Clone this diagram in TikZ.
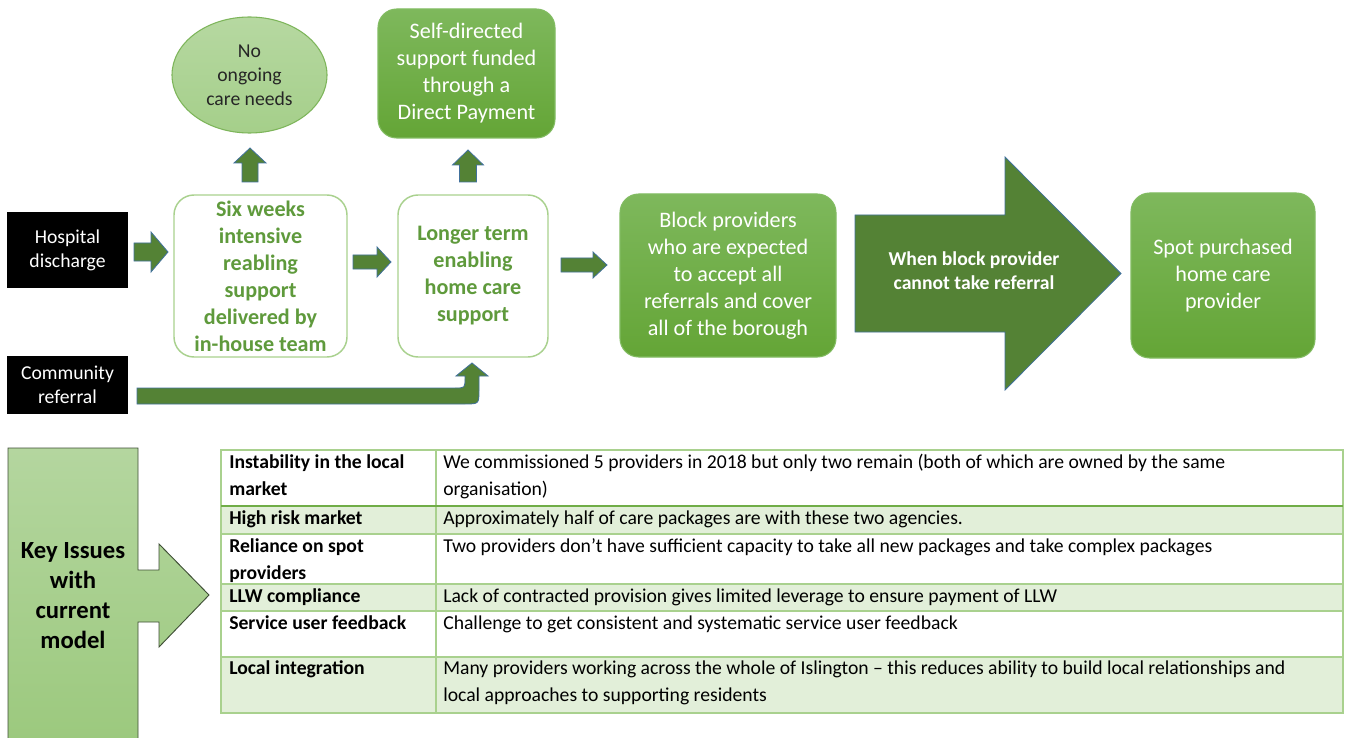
\documentclass[tikz,border=0pt]{standalone}
\usepackage{fontspec}
\setmainfont{Carlito}
\usetikzlibrary{shapes.geometric}
\definecolor{gtop}{HTML}{7EB85C}
\definecolor{gbot}{HTML}{64A536}
\definecolor{gedge}{HTML}{82BC62}
\definecolor{ltop}{HTML}{B6D8A1}
\definecolor{lbot}{HTML}{A5CF8A}
\definecolor{ledge}{HTML}{7DB55A}
\definecolor{dgreen}{HTML}{548235}
\definecolor{aedge}{HTML}{41719C}
\definecolor{gline}{HTML}{A9D18E}
\definecolor{gdark}{HTML}{70AD47}
\definecolor{gtext}{HTML}{5F9A3C}
\definecolor{rowfill}{HTML}{E2EFD9}
\definecolor{kitop}{HTML}{B4D69F}
\definecolor{kibot}{HTML}{9CC97E}
\definecolor{kiedge}{HTML}{3F4F36}
\definecolor{txtdark}{HTML}{262626}
\newcommand\HArrow[6]{\filldraw[blockarrow] (#1,{#3-#4}) -- ({#2-#6},{#3-#4}) -- ({#2-#6},{#3-#5}) -- (#2,#3) -- ({#2-#6},{#3+#5}) -- ({#2-#6},{#3+#4}) -- (#1,{#3+#4}) -- cycle;}
\newcommand\VArrow[6]{\filldraw[blockarrow] ({#1-#4},#2) -- ({#1-#4},{#3+#6}) -- ({#1-#5},{#3+#6}) -- (#1,#3) -- ({#1+#5},{#3+#6}) -- ({#1+#4},{#3+#6}) -- ({#1+#4},#2) -- cycle;}
\tikzset{
  blackbox/.style={rectangle, fill=black, text=white, align=center, inner sep=0pt,
    font=\fontsize{14.75}{18}\selectfont},
  gbox/.style={rectangle, rounded corners=14pt, top color=gtop, bottom color=gbot, draw=gedge,
    line width=0.8pt, text=white, align=center, inner sep=0pt, font=\fontsize{16.6}{20.25}\selectfont},
  wbox/.style={rectangle, rounded corners=15pt, fill=white, draw=gline, line width=1.1pt,
    text=gtext, align=center, inner sep=0pt, font=\bfseries\fontsize{16.6}{20.25}\selectfont},
  oval/.style={ellipse, top color=ltop, bottom color=lbot, draw=ledge, line width=0.8pt,
    text=txtdark, align=center, inner sep=0pt, font=\fontsize{14.75}{18}\selectfont},
  blockarrow/.style={fill=dgreen, draw=aedge, line width=0.6pt},
  arrowtext/.style={text=white, align=center, font=\bfseries\fontsize{14.75}{18}\selectfont},
  keytext/.style={text=black, align=center, font=\bfseries\fontsize{18.5}{22.7}\selectfont},
  cell/.style={anchor=base west, inner sep=0pt, text=black, font=\fontsize{14.75}{20.25}\selectfont},
  cellb/.style={cell, font=\bfseries\fontsize{14.75}{20.25}\selectfont},
  gridline/.style={draw=gline, line width=1.1pt},
}
\begin{document}
\begin{tikzpicture}[x=0.75pt,y=-0.75pt]
\useasboundingbox (0,0) rectangle (1350,738);
\fill[white] (0,0) rectangle (1350,738);

% ---------- top flow ----------
\node[blackbox, minimum width=90.75pt, minimum height=57pt] (hosp) at (67.5,250) {Hospital\\discharge};
\node[blackbox, minimum width=90.75pt, minimum height=43.5pt] (comm) at (67.5,385) {Community\\referral};
\node[oval, minimum width=116.25pt, minimum height=87pt] (none) at (249.5,75) {No\\ongoing\\care needs};
\node[gbox, minimum width=132.75pt, minimum height=96.75pt] (self) at (466.5,73.5) {Self-directed\\support funded\\through a\\Direct Payment};
\node[wbox, minimum width=129.75pt, minimum height=121.5pt] (six) at (260.5,276) {Six weeks\\intensive\\reabling\\support\\delivered by\\in-house team};
\node[wbox, minimum width=112.5pt, minimum height=121.5pt] (longer) at (473,276) {Longer term\\enabling\\home care\\support};
\node[gbox, minimum width=162pt, minimum height=122.25pt] (block) at (728,275.5) {Block providers\\who are expected\\to accept all\\referrals and cover\\all of the borough};
\node[gbox, minimum width=138pt, minimum height=123.75pt] (spot) at (1223,275.5) {Spot purchased\\home care\\provider};

% block arrows
\HArrow{134}{168}{252}{9}{20}{17}
\HArrow{353}{391}{262}{7}{15}{14}
\HArrow{561}{607}{265}{7}{13}{14}
\HArrow{855}{1121}{273.5}{58.5}{116.5}{116}
\node[arrowtext] (bigtxt) at (974,271) {When block provider\\cannot take referral};
\VArrow{250}{182}{148}{8}{16}{15}
\VArrow{468}{182}{150}{8.5}{15.5}{15}
% community referral bent arrow
\filldraw[blockarrow] (137,388) -- (455,388) .. controls (465,388) .. (465,378) -- (465,376)
  -- (456,376) -- (472,363) -- (488,376) -- (479,376) -- (479,390)
  .. controls (479,404) .. (465,404) -- (137,404) -- cycle;

% ---------- key issues callout ----------
\shade[top color=kitop, bottom color=kibot, draw=kiedge, line width=0.7pt]
  (8,740) -- (8,448) -- (138,448) -- (138,570) -- (159,570) -- (159,544) -- (209,595)
  -- (159,647) -- (159,622) -- (138,622) -- (138,740);
\node[keytext] (key) at (73,595.5) {Key Issues\\with\\current\\model};

% ---------- table ----------
\fill[rowfill] (221,506) rectangle (1343,534);
\fill[rowfill] (221,584) rectangle (1343,611);
\fill[rowfill] (221,657) rectangle (1343,713);
\draw[gridline] (221,450) rectangle (1343,713);
\draw[gridline] (221,534) -- (1343,534);
\draw[gridline] (221,584) -- (1343,584);
\draw[gridline] (221,611) -- (1343,611);
\draw[gridline] (221,657) -- (1343,657);
\draw[gridline] (436,450) -- (436,713);
\draw[draw=gdark, line width=1.8pt] (221,506) -- (1343,506);

\node[cellb] (l1) at (229,468.5) {\parbox[t]{200pt}{Instability in the local\\market}};
\node[cell] (r1) at (443,468.5) {\parbox[t]{700pt}{We commissioned 5 providers in 2018 but only two remain (both of which are owned by the same\\organisation)}};
\node[cellb] (l2) at (229,524.5) {High risk market};
\node[cell] (r2) at (443,524.5) {Approximately half of care packages are with these two agencies.};
\node[cellb] (l3) at (229,552.5) {\parbox[t]{200pt}{Reliance on spot\\providers}};
\node[cell] (r3) at (443,552.5) {Two providers don’t have sufficient capacity to take all new packages and take complex packages};
\node[cellb] (l4) at (229,602.5) {LLW compliance};
\node[cell] (r4) at (443,602.5) {Lack of contracted provision gives limited leverage to ensure payment of LLW};
\node[cellb] (l5) at (229,629.5) {Service user feedback};
\node[cell] (r5) at (443,629.5) {Challenge to get consistent and systematic service user feedback};
\node[cellb] (l6) at (229,674.5) {Local integration};
\node[cell] (r6) at (443,674.5) {\parbox[t]{700pt}{Many providers working across the whole of Islington – this reduces ability to build local relationships and\\local approaches to supporting residents}};
\end{tikzpicture}
\end{document}
